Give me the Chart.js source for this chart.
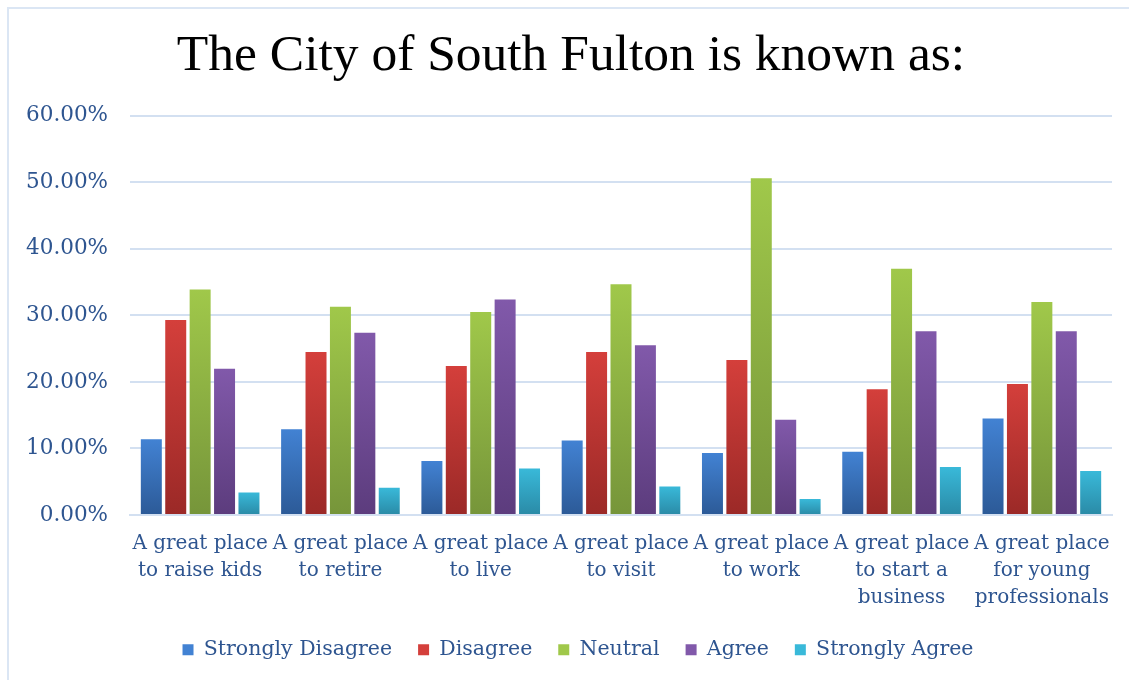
<!DOCTYPE html>
<html>
<head>
<meta charset="utf-8">
<script src="https://cdn.jsdelivr.net/npm/chart.js@4/dist/chart.umd.min.js"></script>
<style>
  html, body { margin: 0; padding: 0; background: #fff; }
  #frame { position: absolute; left: 7px; top: 7px; width: 1200px; height: 760px; border: 2px solid #dbe6f4; }
  #wrap { position: absolute; left: 0; top: 0; width: 1129px; height: 680px; }
</style>
</head>
<body>
<div id="frame"></div>
<div id="wrap"><canvas id="c" width="1129" height="680"></canvas></div>
<script>
const categories = [
  ["A great place", "to raise kids"],
  ["A great place", "to retire"],
  ["A great place", "to live"],
  ["A great place", "to visit"],
  ["A great place", "to work"],
  ["A great place", "to start a", "business"],
  ["A great place", "for young", "professionals"]
];
const seriesNames = ["Strongly Disagree", "Disagree", "Neutral", "Agree", "Strongly Agree"];
const stronglyDisagree = [11.4, 12.9, 8.1, 11.2, 9.3, 9.5, 14.5];
const disagree         = [29.3, 24.5, 22.4, 24.5, 23.3, 18.9, 19.7];
const neutral          = [33.9, 31.3, 30.5, 34.7, 50.6, 37.0, 32.0];
const agree            = [22.0, 27.4, 32.4, 25.5, 14.3, 27.6, 27.6];
const stronglyAgree    = [3.4, 4.1, 7.0, 4.3, 2.4, 7.2, 6.6];
const yTicks = [0, 10, 20, 30, 40, 50, 60];

const palette = [
  ["#4282d3", "#2c5a97"],
  ["#d43f3b", "#9b2927"],
  ["#a0c84a", "#76953a"],
  ["#8159aa", "#5c3c7d"],
  ["#39b9d9", "#2a8aa6"]
];
const values = [stronglyDisagree, disagree, neutral, agree, stronglyAgree];

function gradFill(i) {
  return function(ctx) {
    const chart = ctx.chart;
    if (ctx.type !== 'data' || !chart.chartArea) return palette[i][0];
    const y = chart.scales.y;
    const v = ctx.raw;
    const top = y.getPixelForValue(v);
    const bottom = y.getPixelForValue(0);
    if (!isFinite(top) || !isFinite(bottom) || top === bottom) return palette[i][0];
    const g = chart.ctx.createLinearGradient(0, top, 0, bottom);
    g.addColorStop(0, palette[i][0]);
    g.addColorStop(1, palette[i][1]);
    return g;
  };
}

const textColor = "#2e5590";
const serif = "'DejaVu Serif', serif";

const shiftBoxes = {
  id: 'shiftBoxes',
  afterLayout(chart) {
    if (chart.titleBlock) { chart.titleBlock.left += 15; chart.titleBlock.right += 15; }
    if (chart.legend) { chart.legend.left += 22; chart.legend.right += 22; }
  }
};

new Chart(document.getElementById('c'), {
  type: 'bar',
  data: {
    labels: categories,
    datasets: seriesNames.map((n, i) => ({
      label: n,
      data: values[i],
      backgroundColor: gradFill(i),
      borderWidth: 0,
      categoryPercentage: 0.87,
      barPercentage: 0.86
    }))
  },
  plugins: [shiftBoxes],
  options: {
    responsive: false,
    animation: false,
    layout: { padding: { left: 0, right: 17, top: 0, bottom: 10 } },
    plugins: {
      title: {
        display: true,
        text: "The City of South Fulton is known as:",
        color: "#000",
        font: { family: "'Liberation Serif', serif", size: 51.5, weight: 'normal' },
        padding: { top: 26, bottom: 28 }
      },
      legend: {
        position: 'bottom',
        labels: {
          color: textColor,
          font: { family: serif, size: 20.5 },
          boxWidth: 11,
          boxHeight: 11,
          padding: 26,
          generateLabels: function(chart) {
            return chart.data.datasets.map((d, i) => ({
              text: d.label,
              fillStyle: palette[i][0],
              strokeStyle: palette[i][0],
              lineWidth: 0,
              fontColor: textColor,
              datasetIndex: i,
              hidden: false
            }));
          }
        }
      },
      tooltip: { enabled: false }
    },
    scales: {
      x: {
        grid: { display: false, drawTicks: false },
        border: { display: true, color: "#d3e0f1", width: 2 },
        ticks: {
          color: textColor,
          font: { family: serif, size: 20, lineHeight: 1.35 },
          maxRotation: 0,
          autoSkip: false,
          padding: 15
        },
        afterFit: function(scale) {
          const chart = scale.chart;
          const lh = chart.legend ? chart.legend.height : 0;
          scale.height = chart.height - 10 - lh - 515;
        }
      },
      y: {
        min: 0,
        max: 60,
        afterBuildTicks: function(scale) {
          scale.ticks = yTicks.map(v => ({ value: v }));
        },
        grid: { color: "#d3e0f1", lineWidth: 2, drawTicks: false },
        border: { display: false },
        ticks: {
          color: textColor,
          font: { family: serif, size: 21.5 },
          padding: 22,
          callback: v => v.toFixed(2) + "%"
        },
        afterFit: function(scale) { scale.width = 130; }
      }
    }
  }
});
</script>
</body>
</html>
